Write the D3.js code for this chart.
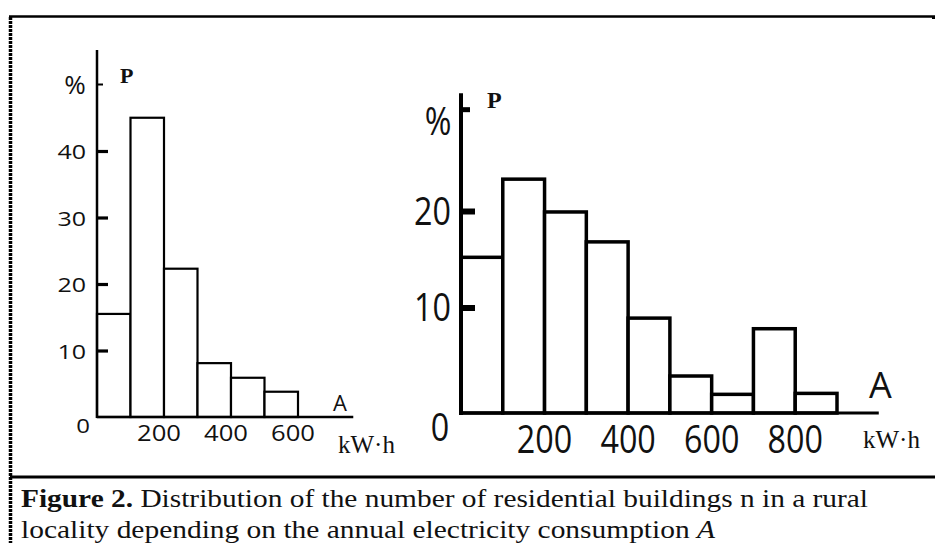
<!DOCTYPE html>
<html>
<head>
  <meta charset="utf-8" />
  <title>Figure 2</title>
  <script src="https://cdnjs.cloudflare.com/ajax/libs/d3/7.8.5/d3.min.js"></script>
  <style>
    body { margin: 0; background: #fff; }
    svg { display: block; }
    .num { font-family: "Open Sans", sans-serif; fill: #111; }
    .serif { font-family: "Liberation Serif", "Times New Roman", serif; fill: #111; }
  </style>
</head>
<body>
<div id="chart"></div>
<script>
  // left histogram: P, % per 100 kW·h bin
  var leftBins = [0, 100, 200, 300, 400, 500];
  var leftValues = [15.5, 45, 22.3, 8.1, 5.9, 3.8];
  var leftYTicks = [10, 20, 30, 40];
  var leftXTicks = [200, 400, 600];

  // right histogram
  var rightBins = [0, 100, 200, 300, 400, 500, 600, 700, 800];
  var rightValues = [15.2, 23.3, 19.9, 16.8, 8.9, 2.9, 1.0, 7.8, 1.1];
  var rightYTicks = [10, 20];
  var rightXTicks = [200, 400, 600, 800];

  var binWidth = 100;
  var width = 935, height = 543;

  var svg = d3.select("#chart")
    .append("svg")
    .attr("width", width)
    .attr("height", height);

  // frame
  svg.append("line").attr("x1", 9).attr("x2", 935).attr("y1", 16.5).attr("y2", 16.5)
    .attr("stroke", "#000").attr("stroke-width", 2.5);
  svg.append("line").attr("x1", 933.5).attr("x2", 933.5).attr("y1", 16).attr("y2", 19)
    .attr("stroke", "#000").attr("stroke-width", 3);
  svg.append("line").attr("x1", 10.5).attr("x2", 10.5).attr("y1", 17).attr("y2", 543)
    .attr("stroke", "#000").attr("stroke-width", 3.5).attr("stroke-dasharray", "3,1");
  svg.append("line").attr("x1", 10).attr("x2", 935).attr("y1", 477).attr("y2", 477)
    .attr("stroke", "#000").attr("stroke-width", 3);

  function label(g, text, x, y, size, sx, anchor, cls) {
    return g.append("text")
      .attr("class", cls || "num")
      .attr("transform", "translate(" + x + "," + y + ") scale(" + sx + ",1)")
      .attr("text-anchor", anchor)
      .style("font-size", size + "px")
      .text(text);
  }

  // ---------- left chart ----------
  var gl = svg.append("g");
  var xl = d3.scaleLinear().domain([0, 600]).range([97, 298]);
  var yl = d3.scaleLinear().domain([0, 50]).range([417, 84.5]);

  gl.selectAll(".barL")
    .data(leftValues)
    .enter().append("rect")
    .attr("class", "barL")
    .attr("x", function(d, i) { return xl(leftBins[i]); })
    .attr("width", function(d, i) { return xl(leftBins[i] + binWidth) - xl(leftBins[i]); })
    .attr("y", function(d) { return yl(d); })
    .attr("height", function(d) { return yl(0) - yl(d); })
    .attr("fill", "#fff")
    .attr("stroke", "#000")
    .attr("stroke-width", 2.2);

  // axes lines
  gl.append("line").attr("x1", xl(0)).attr("x2", xl(765)).attr("y1", yl(0)).attr("y2", yl(0))
    .attr("stroke", "#000").attr("stroke-width", 2.5);
  gl.append("line").attr("x1", xl(0)).attr("x2", xl(0)).attr("y1", yl(55.2)).attr("y2", yl(0) + 1)
    .attr("stroke", "#000").attr("stroke-width", 2.5);

  var tickL = gl.append("g")
    .attr("transform", "translate(" + xl(0) + ",0)")
    .call(d3.axisRight(yl).tickValues(leftYTicks).tickSize(11).tickFormat(""));
  tickL.select(".domain").remove();
  tickL.selectAll(".tick line").attr("stroke", "#000").attr("stroke-width", 3.2);
  gl.append("line").attr("x1", xl(0)).attr("x2", xl(0) + 6).attr("y1", yl(50)).attr("y2", yl(50))
    .attr("stroke", "#000").attr("stroke-width", 2);

  leftYTicks.forEach(function(v) {
    label(gl, String(v), 86, yl(v) + 8, 20, 1.25, "end");
  });
  label(gl, "%", 75, 94, 26, 1.0, "middle");
  label(gl, "0", 83, 433, 20, 1.2, "middle");
  leftXTicks.forEach(function(v) {
    label(gl, String(v), xl(v) - 5, 441, 21, 1.22, "middle");
  });
  label(gl, "A", 333, 411, 22, 1.0, "start");
  label(gl, "kW·h", 338, 453, 25, 1.0, "start", "serif");
  label(gl, "P", 120, 83, 22, 1.0, "start", "serif").style("font-weight", "bold");

  // ---------- right chart ----------
  var gr = svg.append("g");
  var xr = d3.scaleLinear().domain([0, 900]).range([461, 837]);
  var yr = d3.scaleLinear().domain([0, 20]).range([404, 211]);
  var baseR = yr(0) + 9;

  gr.selectAll(".barR")
    .data(rightValues)
    .enter().append("rect")
    .attr("class", "barR")
    .attr("x", function(d, i) { return xr(rightBins[i]); })
    .attr("width", function(d, i) { return xr(rightBins[i] + binWidth) - xr(rightBins[i]); })
    .attr("y", function(d) { return yr(d); })
    .attr("height", function(d) { return baseR - yr(d); })
    .attr("fill", "#fff")
    .attr("stroke", "#000")
    .attr("stroke-width", 3.5);

  gr.append("line").attr("x1", xr(0)).attr("x2", xr(1000)).attr("y1", baseR).attr("y2", baseR)
    .attr("stroke", "#000").attr("stroke-width", 3);
  gr.append("line").attr("x1", xr(0)).attr("x2", xr(0)).attr("y1", yr(32.2)).attr("y2", baseR + 2)
    .attr("stroke", "#000").attr("stroke-width", 4);

  var tickR = gr.append("g")
    .attr("transform", "translate(" + xr(0) + ",0)")
    .call(d3.axisRight(yr).tickValues(rightYTicks).tickSize(14).tickFormat(""));
  tickR.select(".domain").remove();
  tickR.selectAll(".tick line").attr("stroke", "#000").attr("stroke-width", 6);
  gr.append("line").attr("x1", xr(0)).attr("x2", xr(0) + 9).attr("y1", yr(30.5)).attr("y2", yr(30.5))
    .attr("stroke", "#000").attr("stroke-width", 5);

  rightYTicks.forEach(function(v) {
    label(gr, String(v), 451, yr(v) + 13.5, 38, 0.85, "end");
  });
  label(gr, "%", 438, 135, 38, 0.85, "middle");
  label(gr, "0", 440, 441, 38, 0.85, "middle");
  rightXTicks.forEach(function(v) {
    label(gr, String(v), xr(v), 453, 38, 0.85, "middle");
  });
  label(gr, "A", 869, 398, 36, 1.0, "start");
  label(gr, "kW·h", 863, 448, 25, 1.0, "start", "serif");
  label(gr, "P", 487, 108, 24, 1.0, "start", "serif").style("font-weight", "bold");

  // ---------- caption ----------
  var cap1 = svg.append("text").attr("class", "serif")
    .attr("x", 21).attr("y", 507).style("font-size", "25px")
    .attr("textLength", 847).attr("lengthAdjust", "spacingAndGlyphs");
  cap1.append("tspan").style("font-weight", "bold").text("Figure 2.");
  cap1.append("tspan").text(" Distribution of the number of residential buildings n in a rural");

  var cap2 = svg.append("text").attr("class", "serif")
    .attr("x", 21).attr("y", 538).style("font-size", "25px")
    .attr("textLength", 694).attr("lengthAdjust", "spacingAndGlyphs");
  cap2.append("tspan").text("locality depending on the annual electricity consumption ");
  cap2.append("tspan").style("font-style", "italic").text("A");
</script>
</body>
</html>
